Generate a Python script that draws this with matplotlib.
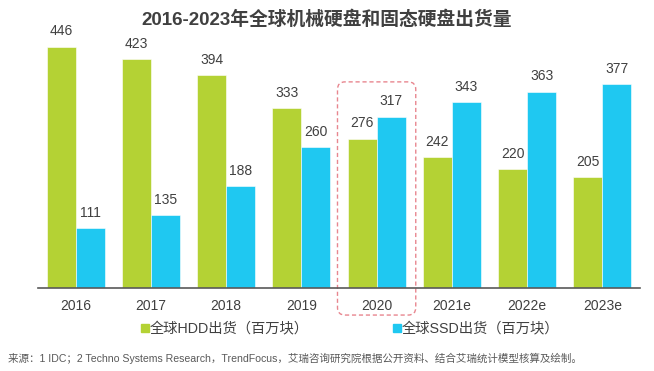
import matplotlib
matplotlib.use("Agg")
import matplotlib.pyplot as plt
from matplotlib.patches import FancyBboxPatch, Rectangle
import numpy as np

plt.rcParams['font.family'] = ['Liberation Sans', 'Noto Sans CJK SC', 'DejaVu Sans']

years = ['2016', '2017', '2018', '2019', '2020', '2021e', '2022e', '2023e']
hdd = [446, 423, 394, 333, 276, 242, 220, 205]
ssd = [111, 135, 188, 260, 317, 343, 363, 377]
title = '2016-2023年全球机械硬盘和固态硬盘出货量'
legend_hdd = '全球HDD出货（百万块）'
legend_ssd = '全球SSD出货（百万块）'
source = '来源：1 IDC；2 Techno Systems Research，TrendFocus，艾瑞咨询研究院根据公开资料、结合艾瑞统计模型核算及绘制。'

green = '#b4d234'
blue = '#1fc8f1'
txt = '#404040'

fig = plt.figure(figsize=(6.54, 3.71), dpi=100)
ax = fig.add_axes([38/654, 83/371, 602/654, 270.5/371])

x = np.arange(len(years))
w = 0.385
ax.bar(x - w/2, hdd, w, color=green, edgecolor='white', linewidth=0.4)
ax.bar(x + w/2, ssd, w, color=blue, edgecolor='white', linewidth=0.4)

for xi, v in zip(x, hdd):
    ax.annotate(str(v), (xi - w/2, v), xytext=(0, 6), textcoords='offset points',
                ha='center', va='bottom', fontsize=10, color=txt)
for xi, v in zip(x, ssd):
    ax.annotate(str(v), (xi + w/2, v), xytext=(0, 6), textcoords='offset points',
                ha='center', va='bottom', fontsize=10, color=txt)

ax.set_xlim(-0.5, 7.5)
ax.set_ylim(0, 500)
ax.set_xticks(x)
ax.set_xticklabels(years, fontsize=10, color=txt)
ax.tick_params(axis='x', length=0, pad=8)
ax.set_yticks([])
for s in ['left', 'right', 'top']:
    ax.spines[s].set_visible(False)
ax.spines['bottom'].set_color('#595959')
ax.spines['bottom'].set_linewidth(1.2)

# highlight box around 2020
px_per_x = 602/8
px_per_y = 270.5/500
box = FancyBboxPatch((3.48, -50), 1.04, 431,
                     boxstyle='round,pad=0,rounding_size=0.1',
                     mutation_aspect=px_per_x/px_per_y,
                     fill=False, edgecolor='#e8868f', linestyle=(0, (3, 2)),
                     linewidth=1.0, clip_on=False, transform=ax.transData)
ax.add_patch(box)

fig.text(0.5, 1 - 20/371, title, ha='center', va='center', fontsize=13.5,
         fontweight='bold', color=txt)

# legend
ly = 1 - 328/371
fig.patches.append(Rectangle((141/654, ly - 4/371), 8/654, 8/371,
                             transform=fig.transFigure, color=green))
fig.text(150/654, ly, legend_hdd, ha='left', va='center', fontsize=10.3, color=txt)
fig.patches.append(Rectangle((393/654, ly - 4/371), 8/654, 8/371,
                             transform=fig.transFigure, color=blue))
fig.text(402/654, ly, legend_ssd, ha='left', va='center', fontsize=10.3, color=txt)

fig.text(8/654, 1 - 358/371, source, ha='left', va='center', fontsize=7.6, color='#595959')

fig.savefig('out.png', dpi=100)
